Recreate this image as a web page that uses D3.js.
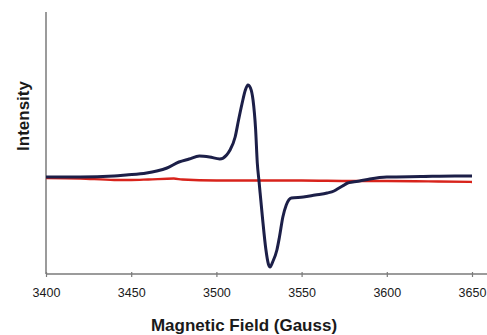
<!DOCTYPE html>
<html>
<head>
<meta charset="utf-8">
<script src="https://cdn.jsdelivr.net/npm/d3@7/dist/d3.min.js"></script>
<style>
  html, body { margin: 0; padding: 0; background: #fff; }
  svg text { font-family: "Liberation Sans", Arial, sans-serif; fill: #1a1a1a; }
</style>
</head>
<body>
<svg id="chart" width="487" height="335"></svg>
<script>
// x ticks (Gauss)
const xTicks = [3400, 3450, 3500, 3550, 3600, 3650];

// EPR derivative spectrum, sample (dark blue)
const sampleField = [3400, 3420, 3440, 3447, 3459, 3465, 3471, 3478, 3484, 3490, 3496, 3502, 3506, 3508,
  3511, 3513, 3515, 3517, 3518.5, 3520, 3521.5, 3523, 3524, 3525, 3527, 3529, 3530.5, 3531.5, 3533,
  3535.5, 3537, 3539, 3541, 3544, 3551, 3558, 3565, 3569, 3571, 3574, 3577, 3580, 3584, 3590, 3600,
  3620, 3640, 3650];
const sampleIntensity = [2, 2, 3, 4, 6, 8, 11, 17, 20, 23, 22, 20, 24, 29,
  42, 59, 75, 89, 94, 91, 79, 50, 16, -2, -38, -70, -85, -88, -83,
  -71, -58, -38, -26, -19, -18, -16, -14, -12, -10, -7, -4, -3, -2, 0, 2,
  2.5, 3, 3];

// control (red)
const controlField = [3400, 3420, 3440, 3450, 3460, 3475, 3480, 3500, 3520, 3550, 3580, 3600, 3630, 3650];
const controlIntensity = [1, 0.5, -1, -1, -0.5, 0.5, -0.5, -1.5, -1.5, -1.5, -2, -2, -2.5, -3];

const svg = d3.select('#chart');

const x = d3.scaleLinear().domain([3400, 3650]).range([46, 472]);
const y = d3.scaleLinear().domain([-95, 167]).range([274, 12]);

// x axis line runs to the right edge
svg.append('line')
  .attr('x1', 46).attr('x2', 487)
  .attr('y1', y(-95)).attr('y2', y(-95))
  .attr('stroke', '#7a7a7a').attr('stroke-width', 1.5);

// y axis line
svg.append('line')
  .attr('x1', x(3400)).attr('x2', x(3400))
  .attr('y1', y(167)).attr('y2', y(-95))
  .attr('stroke', '#7a7a7a').attr('stroke-width', 1.5);

const xAxis = svg.append('g')
  .attr('transform', `translate(0,${y(-95)})`)
  .call(d3.axisBottom(x).tickValues(xTicks).tickSize(4).tickSizeOuter(0).tickFormat(d3.format('d')));
xAxis.select('.domain').remove();
xAxis.selectAll('.tick line').attr('stroke', '#7a7a7a').attr('stroke-width', 1.2).attr('y1', -2).attr('y2', 3);
xAxis.selectAll('.tick text')
  .attr('y', 14)
  .style('font-size', '12.5px')
  .style('font-family', '"Liberation Sans", Arial, sans-serif')
  .attr('fill', '#111');

// lines
const line = d3.line().curve(d3.curveMonotoneX);

svg.append('path')
  .datum(controlField.map((f, i) => [x(f), y(controlIntensity[i])]))
  .attr('d', line)
  .attr('fill', 'none')
  .attr('stroke', '#d8231b')
  .attr('stroke-width', 2.3);

svg.append('path')
  .datum(sampleField.map((f, i) => [x(f), y(sampleIntensity[i])]))
  .attr('d', line)
  .attr('fill', 'none')
  .attr('stroke', '#1c1f48')
  .attr('stroke-width', 3)
  .attr('stroke-linejoin', 'round');

// axis titles
svg.append('text')
  .attr('x', 244).attr('y', 331)
  .attr('text-anchor', 'middle')
  .style('font-size', '17px').style('font-weight', 'bold')
  .text('Magnetic Field (Gauss)');

svg.append('text')
  .attr('transform', 'translate(29,116) rotate(-90)')
  .attr('text-anchor', 'middle')
  .style('font-size', '17px').style('font-weight', 'bold')
  .text('Intensity');
</script>
</body>
</html>
